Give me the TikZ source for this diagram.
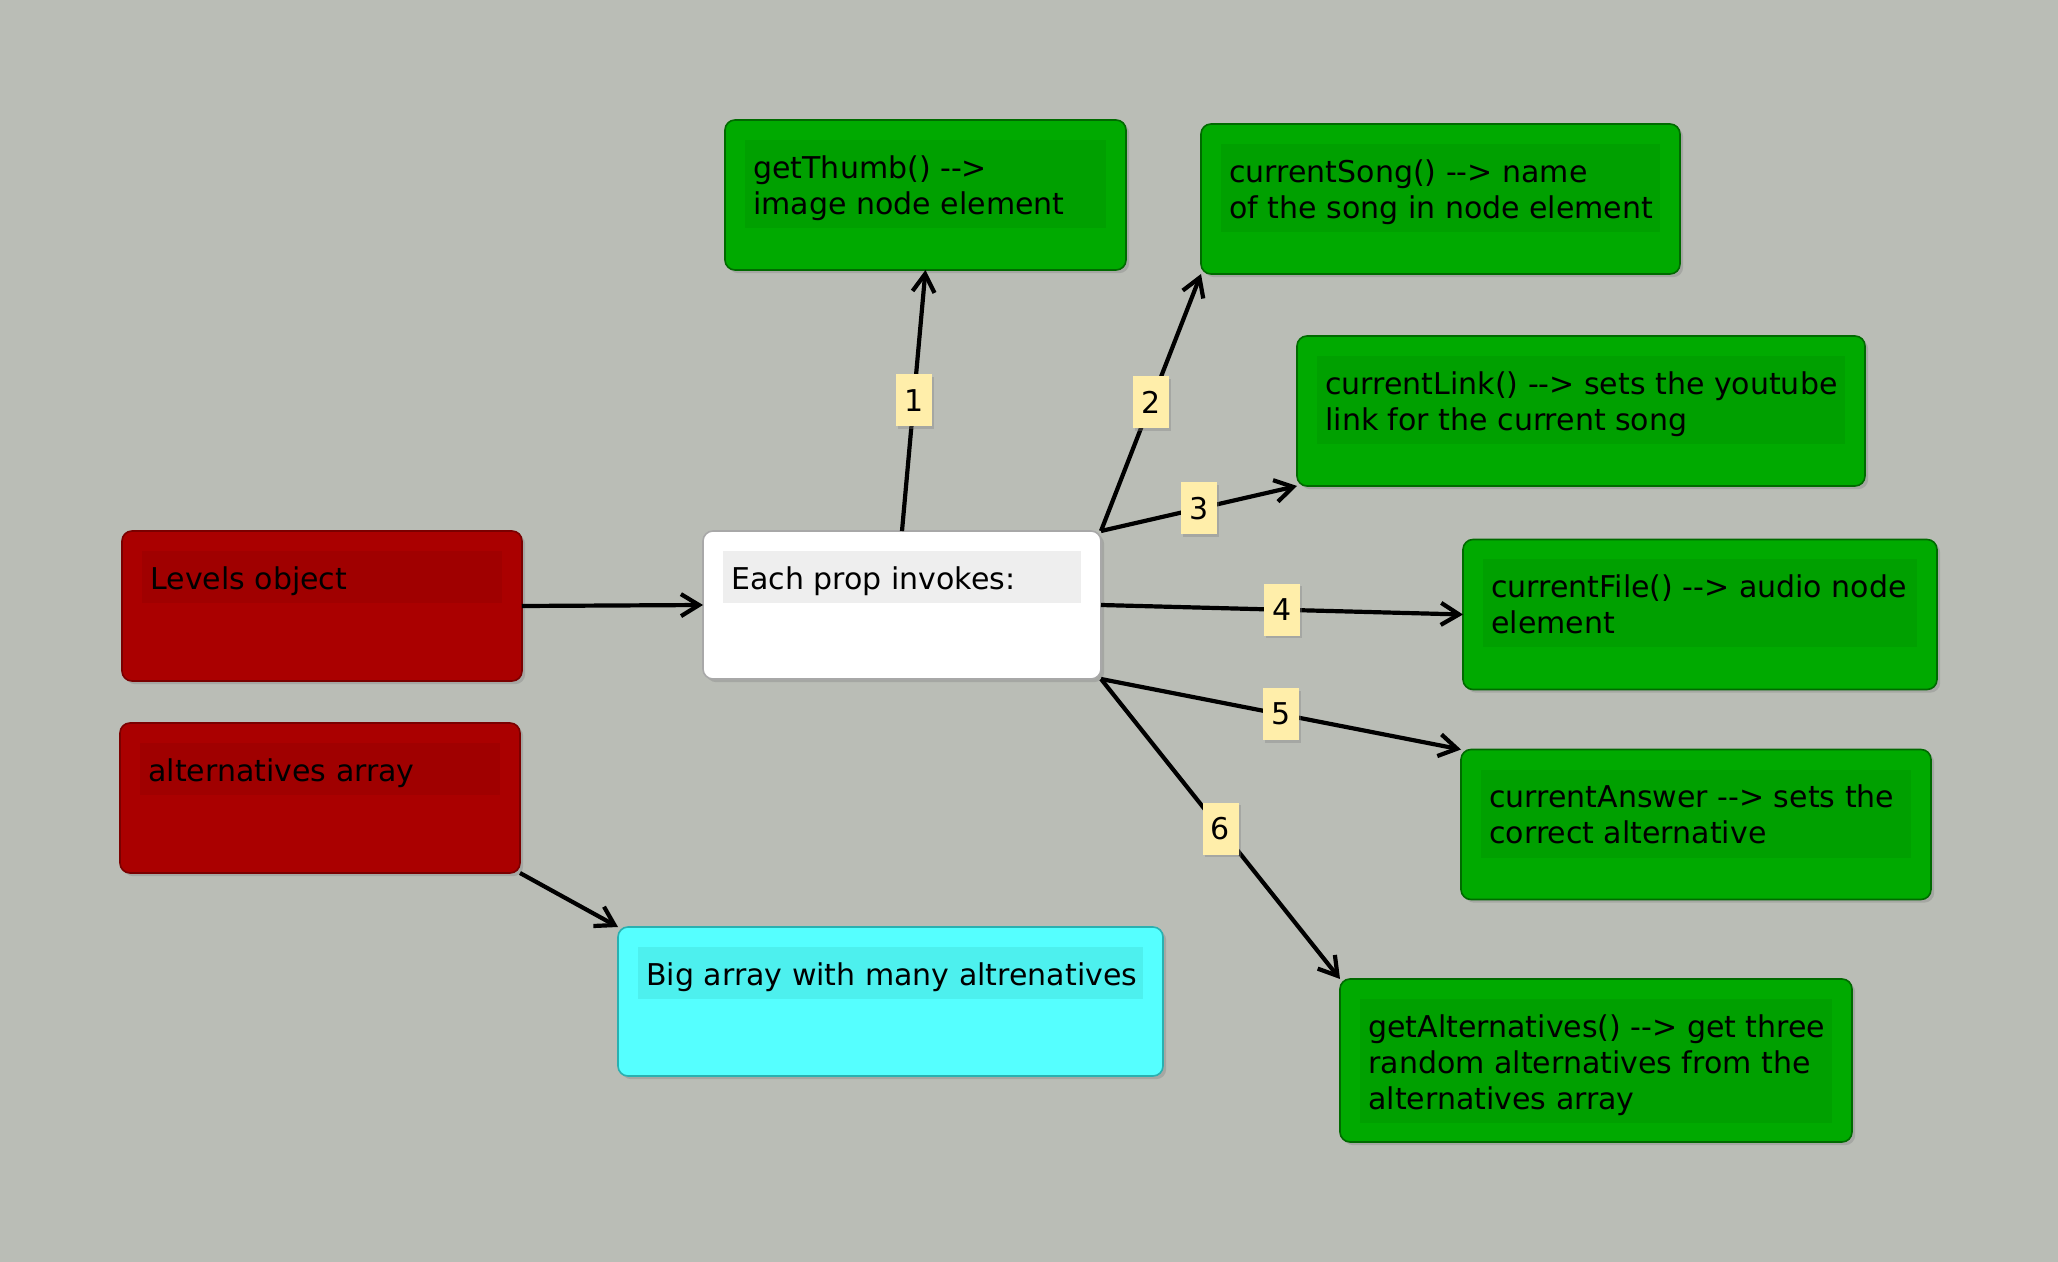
\documentclass[tikz,border=0pt]{standalone}
\usepackage{fontspec}
\newfontfamily\dv{DejaVu Sans}
\usetikzlibrary{calc,shadows,arrows.meta}
\definecolor{bgc}{HTML}{BABDB6}
\definecolor{redF}{HTML}{AA0000}
\definecolor{redB}{HTML}{A00000}
\definecolor{redD}{HTML}{7A0000}
\definecolor{grnF}{HTML}{00AA00}
\definecolor{grnB}{HTML}{00A000}
\definecolor{grnD}{HTML}{006A00}
\definecolor{cyaF}{HTML}{55FFFF}
\definecolor{cyaB}{HTML}{4DF0EE}
\definecolor{cyaD}{HTML}{2AB0B0}
\definecolor{whtB}{HTML}{EEEEEE}
\definecolor{whtD}{HTML}{A8A8A8}
\definecolor{labF}{HTML}{FFEEAA}
\begin{document}
\begin{tikzpicture}[x=0.5pt,y=-0.5pt,
  box/.style={line width=0.8pt, rounded corners=5pt, inner sep=0pt, outer sep=0pt,
    drop shadow={shadow xshift=1.6pt, shadow yshift=-1.6pt, opacity=0.35}},
  redbox/.style={box, fill=redF, draw=redD},
  grnbox/.style={box, fill=grnF, draw=grnD},
  cyabox/.style={box, fill=cyaF, draw=cyaD},
  whtbox/.style={box, fill=white, draw=whtD},
  txt/.style={anchor=north west, inner sep=0pt, align=left, font=\dv\fontsize{15}{18}\selectfont},
  lab/.style={fill=labF, minimum width=18pt, minimum height=26pt, inner sep=0pt,
    font=\dv\fontsize{15}{18}\selectfont,
    drop shadow={shadow xshift=1.2pt, shadow yshift=-1.2pt, opacity=0.35}},
  arr/.style={draw=black, line width=2.1pt, -{Straight Barb[length=9pt,width=11pt]}}
]
\fill[bgc] (0,0) rectangle (2058,1262);
\useasboundingbox (0,0) rectangle (2058,1262);

% boxes
\node[redbox, minimum width=200pt, minimum height=75pt] (lev) at (322,606) {};
\fill[redB] ($(lev.north west)+(20,20)$) rectangle ($(lev.north east)+(-20,72)$);
\node[txt] (levt) at ($(lev.north west)+(28,32.5)$) {\strut Levels object};

\node[redbox, minimum width=200pt, minimum height=75pt] (alt) at (320,798) {};
\fill[redB] ($(alt.north west)+(20,20)$) rectangle ($(alt.north east)+(-20,72)$);
\node[txt] (altt) at ($(alt.north west)+(28,32.5)$) {\strut alternatives array};

\node[whtbox, minimum width=199pt, minimum height=74pt] (each) at (902,605) {};
\fill[whtB] ($(each.north west)+(20,20)$) rectangle ($(each.north east)+(-20,72)$);
\node[txt] (eacht) at ($(each.north west)+(28,32.5)$) {\strut Each prop invokes:};

\node[grnbox, minimum width=200.5pt, minimum height=75pt] (thumb) at (925.5,195) {};
\fill[grnB] ($(thumb.north west)+(20,20)$) rectangle ($(thumb.north east)+(-20,108)$);
\node[txt] (thumbt) at ($(thumb.north west)+(28,32.5)$) {\strut getThumb() -\kern0pt->\\image node element};

\node[grnbox, minimum width=239.5pt, minimum height=75pt] (song) at (1440.5,199) {};
\fill[grnB] ($(song.north west)+(20,20)$) rectangle ($(song.north east)+(-20,108)$);
\node[txt] (songt) at ($(song.north west)+(28,32.5)$) {\strut currentSong() -\kern0pt-> name\\of the song in node element};

\node[grnbox, minimum width=284pt, minimum height=75pt] (link) at (1581,411) {};
\fill[grnB] ($(link.north west)+(20,20)$) rectangle ($(link.north east)+(-20,108)$);
\node[txt] (linkt) at ($(link.north west)+(28,32.5)$) {\strut currentLink() -\kern0pt-> sets the youtube\\link for the current song};

\node[grnbox, minimum width=237pt, minimum height=75pt] (file) at (1700,614.5) {};
\fill[grnB] ($(file.north west)+(20,20)$) rectangle ($(file.north east)+(-20,108)$);
\node[txt] (filet) at ($(file.north west)+(28,32.5)$) {\strut currentFile() -\kern0pt-> audio node\\element};

\node[grnbox, minimum width=235pt, minimum height=75pt] (ans) at (1696,824.5) {};
\fill[grnB] ($(ans.north west)+(20,20)$) rectangle ($(ans.north east)+(-20,108)$);
\node[txt] (anst) at ($(ans.north west)+(28,32.5)$) {\strut currentAnswer -\kern0pt-> sets the\\correct alternative};

\node[grnbox, minimum width=256pt, minimum height=81.5pt] (galt) at (1596,1060.5) {};
\fill[grnB] ($(galt.north west)+(20,20)$) rectangle ($(galt.north east)+(-20,144)$);
\node[txt] (galtt) at ($(galt.north west)+(28,32.5)$) {\strut getAlternatives() -\kern0pt-> get three\\random alternatives from the\\alternatives array};

\node[cyabox, minimum width=272.5pt, minimum height=74.5pt] (big) at (890.5,1001.5) {};
\fill[cyaB] ($(big.north west)+(20,20)$) rectangle ($(big.north east)+(-20,72)$);
\node[txt] (bigt) at ($(big.north west)+(28,32.5)$) {\strut Big array with many altrenatives};

% connectors
\draw[arr] (lev.east) -- (each.west);
\draw[arr] (alt.south east) -- (big.north west);
\draw[arr] (each.north) -- node[lab] (l1) {1} (thumb.south);
\draw[arr] (each.north east) -- node[lab] (l2) {2} (song.south west);
\draw[arr] (each.north east) -- node[lab] (l3) {3} (link.south west);
\draw[arr] (each.east) -- node[lab] (l4) {4} (file.west);
\draw[arr] (each.south east) -- node[lab] (l5) {5} (ans.north west);
\draw[arr] (each.south east) -- node[lab] (l6) {6} (galt.north west);
\end{tikzpicture}
\end{document}
